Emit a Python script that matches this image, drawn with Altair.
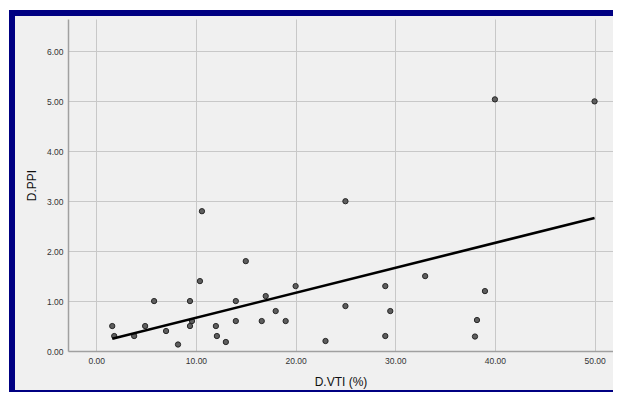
import altair as alt
import pandas as pd

# D.VTI (%) values
vti = [1.6, 1.8, 3.8, 4.9, 5.8, 7.0, 8.2, 9.4, 9.4, 9.6, 10.4, 10.6, 12.0, 12.1,
       13.0, 14.0, 14.0, 15.0, 16.6, 17.0, 18.0, 19.0, 20.0, 23.0, 25.0, 25.0,
       29.0, 29.0, 29.5, 33.0, 38.0, 38.2, 39.0, 40.0, 50.0]
# D.PPI values
ppi = [0.50, 0.30, 0.30, 0.50, 1.00, 0.40, 0.13, 1.00, 0.50, 0.60, 1.40, 2.80,
       0.50, 0.30, 0.18, 1.00, 0.60, 1.80, 0.60, 1.10, 0.80, 0.60, 1.30, 0.20,
       3.00, 0.90, 1.30, 0.30, 0.80, 1.50, 0.29, 0.62, 1.20, 5.04, 5.00]

x_ticks = [0, 10, 20, 30, 40, 50]
y_ticks = [0, 1, 2, 3, 4, 5, 6]

df = pd.DataFrame({"vti": vti, "ppi": ppi})

W, H = 545, 332
NAVY = "#000082"

xs = alt.Scale(domain=[-2.84, 51.85], nice=False, zero=False)
ys = alt.Scale(domain=[0, 6.65], nice=False, zero=False)

one = alt.Data(values=[{}])

def band(x1, x2, y1, y2, color):
    return alt.Chart(one).mark_rect(color=color, strokeWidth=0).encode(
        x=alt.value(x1), x2=alt.value(x2), y=alt.value(y1), y2=alt.value(y2))

# page-margin strips and the navy outer frame (decoration only)
frame = [
    band(-60, -59, -11, 373, "white"),
    band(-60, W, -11, -9, "white"),
    band(-59, -53, -9, 373, NAVY),
    band(-59, W, -9, -3, NAVY),
    band(-53, W, 371, 373, NAVY),
]

base = alt.Chart(df)

points = base.mark_point(filled=True, size=28, fill="#5e5e5e", stroke="#262626",
                         strokeWidth=1, opacity=1).encode(
    x=alt.X("vti:Q", scale=xs,
            axis=alt.Axis(title="D.VTI (%)", values=x_ticks, format=".2f")),
    y=alt.Y("ppi:Q", scale=ys,
            axis=alt.Axis(title="D.PPI", values=y_ticks, format=".2f")),
)

fit = base.transform_regression("vti", "ppi").mark_line(
    color="black", strokeWidth=2.6).encode(
    x=alt.X("vti:Q", scale=xs), y=alt.Y("ppi:Q", scale=ys))

chart = alt.layer(*frame, points, fit).properties(
    width=W, height=H,
    padding={"left": 60, "top": 11, "right": 0, "bottom": 41},
    autosize=alt.AutoSizeParams(type="none"),
    background="#f0f0f0",
).configure_view(stroke=None, fill="#f0f0f0").configure_axis(
    grid=True, gridColor="#c8c8c8", gridWidth=1,
    domainColor="#a0a0a0", domainWidth=1.5,
    ticks=False, labelPadding=5,
    labelFont="Liberation Sans", labelFontSize=8.5, labelColor="#333333",
    titleFont="Liberation Sans", titleFontSize=12, titleFontWeight="normal",
    titleColor="#111111",
).configure_axisX(titlePadding=12).configure_axisY(titlePadding=8)

chart.save("out.html", embed_options={"renderer": "svg", "actions": False})
